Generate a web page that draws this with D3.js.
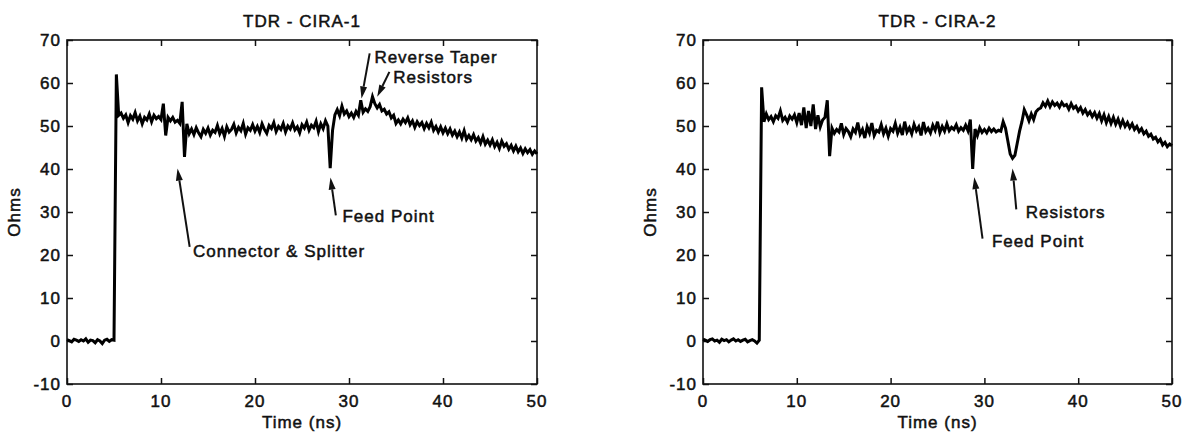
<!DOCTYPE html>
<html>
<head>
<meta charset="utf-8">
<script src="https://cdn.jsdelivr.net/npm/d3@7"></script>
<style>
  body { margin: 0; background: #fff; }
  svg { display: block; font-family: "Liberation Sans", Arial, Helvetica, sans-serif; }
  .lbl { font-size: 17px; letter-spacing: 1px; fill: #111; stroke: #111; stroke-width: 0.5px; }
</style>
</head>
<body>
<div id="chart"></div>
<script>
// echantillonnage : 0.25 ns de 0 a 50 ns
const timeNs = d3.range(0, 50.0001, 0.25);

const xTicks = [0, 10, 20, 30, 40, 50];
const yTicks = [-10, 0, 10, 20, 30, 40, 50, 60, 70];

// TDR - CIRA-1 (Ohms)
const cira1 = [
  0.3, 0.1, -0.2, 0.4, 0.2, -0.1, 0.3, 0.0, 0.5, -0.3, 0.2, 0.1, -0.4, 0.3, 0.0, -0.6, 0.2, 0.4, -0.1, 0.3,
  0.2, 62.0, 52.5, 53.0, 51.8, 52.6, 50.8, 52.4, 51.6, 53.1, 51.2, 52.3, 50.5, 52.0, 51.4, 52.8, 51.0, 52.5, 51.7, 52.2,
  51.5, 55.2, 47.8, 52.0, 51.2, 52.0, 50.9, 51.3, 50.6, 55.6, 42.8, 50.5, 48.2, 49.3, 48.0, 49.6, 48.4, 47.5, 49.2, 48.3,
  49.5, 47.9, 49.0, 48.5, 50.1, 48.2, 49.4, 47.6, 49.8, 48.6, 49.2, 50.4, 48.4, 49.7, 48.9, 50.6, 48.1, 49.6, 49.0, 50.3,
  48.8, 49.9, 48.5, 50.5, 49.2, 48.3, 50.1, 49.4, 50.8, 48.7, 49.9, 49.2, 50.6, 48.6, 50.0, 49.3, 50.7, 49.1, 49.8, 48.4,
  50.3, 49.5, 50.9, 49.0, 50.2, 49.6, 51.1, 48.7, 50.5, 49.4, 51.2, 50.0, 40.2, 49.0, 52.6, 53.8, 52.4, 54.6, 52.8, 53.5,
  52.2, 53.0, 52.0, 53.4, 52.5, 56.0, 53.2, 54.0, 53.4, 54.5, 56.8, 55.2, 54.2, 55.0, 53.5, 53.9, 52.8, 53.3, 51.9, 52.5,
  50.6, 51.4, 50.5, 51.6, 50.8, 51.9, 50.3, 51.2, 49.7, 51.0, 50.1, 50.8, 49.4, 50.6, 49.6, 50.9, 49.0, 49.9, 48.6, 49.8,
  48.4, 49.5, 48.2, 49.3, 47.9, 48.8, 47.5, 48.6, 47.2, 48.9, 46.9, 47.8, 46.8, 48.0, 46.5, 47.3, 46.0, 47.5, 45.8, 46.7,
  45.6, 46.8, 45.2, 46.2, 44.8, 46.5, 45.3, 45.9, 44.6, 45.5, 44.2, 45.3, 44.0, 44.9, 43.6, 44.7, 43.8, 44.5, 43.4, 44.2,
  43.5
];

// TDR - CIRA-2 (Ohms)
const cira2 = [
  0.4, 0.2, -0.1, 0.3, 0.5, 0.0, 0.2, -0.3, 0.4, 0.1, 0.3, -0.2, 0.2, 0.5, 0.0, 0.3, -0.1, 0.2, 0.4, -0.2,
  0.1, 0.3, 0.0, -0.5, 0.2, 59.0, 51.0, 52.8, 51.5, 52.2, 51.0, 52.4, 51.8, 53.5, 51.3, 52.0, 50.9, 52.3, 51.6, 52.6,
  50.8, 53.0, 50.2, 54.3, 49.5, 53.5, 50.0, 55.0, 49.3, 52.5, 49.8, 51.4, 52.0, 56.0, 43.0, 49.5, 48.3, 49.2, 48.6, 50.6,
  48.0, 49.4, 48.7, 47.5, 49.3, 48.5, 50.8, 48.1, 49.2, 47.2, 49.8, 48.4, 50.7, 47.8, 49.0, 48.6, 50.3, 48.2, 49.5, 47.6,
  49.4, 48.8, 50.6, 48.3, 49.7, 47.9, 51.0, 48.6, 49.6, 48.2, 50.4, 48.9, 49.8, 47.8, 50.9, 48.7, 49.5, 48.4, 50.2, 49.0,
  51.0, 48.5, 49.9, 48.8, 50.5, 48.9, 49.7, 49.2, 50.3, 48.8, 49.6, 49.0, 50.2, 48.9, 51.5, 40.0, 49.3, 47.8, 49.6, 48.5,
  49.2, 48.4, 49.5, 48.7, 49.3, 48.6, 49.0, 48.8, 51.0, 49.5, 46.5, 43.5, 42.5, 43.2, 46.0, 48.8, 51.0, 53.8, 52.6, 51.2,
  52.8, 51.5, 53.3, 53.9, 54.2, 55.4, 54.6, 55.8, 54.5, 55.6, 54.8, 55.3, 54.4, 55.5, 54.7, 55.0, 53.9, 55.2, 54.1, 54.6,
  53.5, 54.3, 53.0, 53.8, 52.6, 53.3, 52.2, 53.1, 51.8, 52.9, 51.2, 52.6, 50.8, 52.2, 50.6, 52.0, 50.4, 51.6, 50.0, 51.3,
  49.9, 50.8, 49.6, 50.5, 49.2, 49.9, 48.7, 49.4, 48.2, 48.8, 47.6, 48.1, 47.0, 47.4, 46.3, 46.9, 45.6, 46.2, 45.2, 45.8,
  45.4
];

// annotations, en unites du graphe : [texte, x texte, y texte, queue t, queue ohm, pointe t, pointe ohm]
const notes1 = [
  ["Connector & Splitter", 13.4, 19.5, 13.05, 21.9, 11.76, 40.1],
  ["Feed Point", 29.3, 27.7, 28.6, 29.2, 28.03, 38.0],
  ["Reverse Taper", 32.7, 64.7, 32.2, 66.9, 31.33, 56.4],
  ["Resistors", 34.7, 60.0, 34.3, 62.6, 33.0, 56.8]
];
const notes2 = [
  ["Feed Point", 30.8, 21.9, 29.8, 23.8, 28.92, 38.1],
  ["Resistors", 34.4, 28.6, 33.4, 30.6, 33.0, 40.1]
];

const width = 1188, height = 434;

const svg = d3.select("#chart").append("svg")
  .attr("width", width)
  .attr("height", height)
  .attr("viewBox", [0, 0, width, height]);

function panel(title, values, notes, left, right) {
  const top = 40, bottom = 384;
  const x = d3.scaleLinear().domain([0, 50]).range([left, right]);
  const y = d3.scaleLinear().domain([-10, 70]).range([bottom, top]);
  const g = svg.append("g");
  const tk = 6;

  // ticks vers l'interieur sur les 4 cotes
  const axisStyle = a => a.call(s => s.select(".domain").remove())
    .call(s => s.selectAll("line").attr("stroke", "#111").attr("stroke-width", 1.5));

  g.append("g").attr("transform", `translate(0,${bottom})`)
    .call(d3.axisTop(x).tickValues(xTicks).tickSize(tk).tickFormat(""))
    .call(axisStyle);
  g.append("g").attr("transform", `translate(0,${top})`)
    .call(d3.axisBottom(x).tickValues(xTicks).tickSize(tk).tickFormat(""))
    .call(axisStyle);
  g.append("g").attr("transform", `translate(${left},0)`)
    .call(d3.axisRight(y).tickValues(yTicks).tickSize(tk).tickFormat(""))
    .call(axisStyle);
  g.append("g").attr("transform", `translate(${right},0)`)
    .call(d3.axisLeft(y).tickValues(yTicks).tickSize(tk).tickFormat(""))
    .call(axisStyle);

  // libelles des ticks
  g.selectAll(".xl").data(xTicks).join("text")
    .attr("class", "lbl")
    .attr("x", d => x(d)).attr("y", bottom + 23)
    .attr("text-anchor", "middle")
    .text(d => d);
  g.selectAll(".yl").data(yTicks).join("text")
    .attr("class", "lbl")
    .attr("x", left - 6).attr("y", d => y(d) + 6)
    .attr("text-anchor", "end")
    .text(d => d);

  g.append("rect")
    .attr("x", left).attr("y", top)
    .attr("width", right - left).attr("height", bottom - top)
    .attr("fill", "none").attr("stroke", "#111").attr("stroke-width", 1.6);

  // courbe
  const line = d3.line().x((d, i) => x(timeNs[i])).y(d => y(d));
  g.append("path")
    .datum(values)
    .attr("fill", "none")
    .attr("stroke", "#000")
    .attr("stroke-width", 3)
    .attr("stroke-linejoin", "miter")
    .attr("d", line);

  // titres
  g.append("text").attr("class", "lbl")
    .attr("x", (left + right) / 2).attr("y", 27)
    .attr("text-anchor", "middle").text(title);
  g.append("text").attr("class", "lbl")
    .attr("x", (left + right) / 2).attr("y", 428)
    .attr("text-anchor", "middle").text("Time (ns)");
  g.append("text").attr("class", "lbl")
    .attr("transform", `translate(${left - 47},${(top + bottom) / 2}) rotate(-90)`)
    .attr("text-anchor", "middle").text("Ohms");

  // fleches
  notes.forEach(n => {
    const [txt, tx, ty, t0, v0, t1, v1] = n;
    const x0 = x(t0), y0 = y(v0), x1 = x(t1), y1 = y(v1);
    const ang = Math.atan2(y1 - y0, x1 - x0);
    const hl = 12, hw = 3.5;
    const bx = x1 - hl * Math.cos(ang), by = y1 - hl * Math.sin(ang);
    g.append("line")
      .attr("x1", x0).attr("y1", y0).attr("x2", bx).attr("y2", by)
      .attr("stroke", "#111").attr("stroke-width", 2);
    g.append("path")
      .attr("d", `M${x1},${y1}L${bx - hw * Math.sin(ang)},${by + hw * Math.cos(ang)}L${bx + hw * Math.sin(ang)},${by - hw * Math.cos(ang)}Z`)
      .attr("fill", "#111");
    g.append("text").attr("class", "lbl")
      .attr("x", x(tx)).attr("y", y(ty))
      .text(txt);
  });
}

panel("TDR - CIRA-1", cira1, notes1, 67, 537);
panel("TDR - CIRA-2", cira2, notes2, 703, 1172);
</script>
</body>
</html>
